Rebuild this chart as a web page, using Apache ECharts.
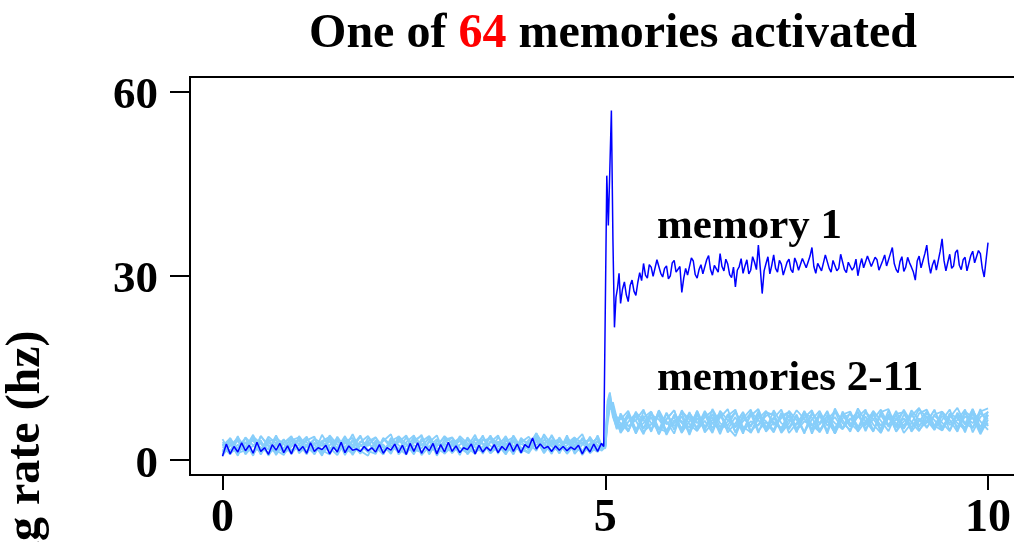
<!DOCTYPE html>
<html><head><meta charset="utf-8">
<script src="https://cdn.jsdelivr.net/npm/echarts@6/dist/echarts.min.js"></script>
<style>html,body{margin:0;padding:0;background:#fff}#c{width:1014px;height:542px}</style>
</head><body><div id="c"></div><script>
// ---- time grids (seconds) ----
const timeFine = [
0,0.05,0.1,0.15,0.2,0.25,0.3,0.35,0.4,0.45,
0.5,0.55,0.6,0.65,0.7,0.75,0.8,0.85,0.9,0.95,
1,1.05,1.1,1.15,1.2,1.25,1.3,1.35,1.4,1.45,
1.5,1.55,1.6,1.65,1.7,1.75,1.8,1.85,1.9,1.95,
2,2.05,2.1,2.15,2.2,2.25,2.3,2.35,2.4,2.45,
2.5,2.55,2.6,2.65,2.7,2.75,2.8,2.85,2.9,2.95,
3,3.05,3.1,3.15,3.2,3.25,3.3,3.35,3.4,3.45,
3.5,3.55,3.6,3.65,3.7,3.75,3.8,3.85,3.9,3.95,
4,4.05,4.1,4.15,4.2,4.25,4.3,4.35,4.4,4.45,
4.5,4.55,4.6,4.65,4.7,4.75,4.8,4.85,4.9,4.95,
4.98,5,5.02,5.04,5.06,5.08,5.1,5.12,5.14,5.16,5.18,
5.2,5.225,5.25,5.275,5.3,5.325,5.35,5.375,5.4,5.425,5.45,5.475,
5.5,5.525,5.55,5.575,5.6,5.625,5.65,5.675,5.7,5.725,5.75,5.775,5.8,5.825,5.85,5.875,5.9,5.925,5.95,5.975,
6,6.025,6.05,6.075,6.1,6.125,6.15,6.175,6.2,6.225,6.25,6.275,6.3,6.325,6.35,6.375,6.4,6.425,6.45,6.475,
6.5,6.525,6.55,6.575,6.6,6.625,6.65,6.675,6.7,6.725,6.75,6.775,6.8,6.825,6.85,6.875,6.9,6.925,6.95,6.975,
7,7.025,7.05,7.075,7.1,7.125,7.15,7.175,7.2,7.225,7.25,7.275,7.3,7.325,7.35,7.375,7.4,7.425,7.45,7.475,
7.5,7.525,7.55,7.575,7.6,7.625,7.65,7.675,7.7,7.725,7.75,7.775,7.8,7.825,7.85,7.875,7.9,7.925,7.95,7.975,
8,8.025,8.05,8.075,8.1,8.125,8.15,8.175,8.2,8.225,8.25,8.275,8.3,8.325,8.35,8.375,8.4,8.425,8.45,8.475,
8.5,8.525,8.55,8.575,8.6,8.625,8.65,8.675,8.7,8.725,8.75,8.775,8.8,8.825,8.85,8.875,8.9,8.925,8.95,8.975,
9,9.025,9.05,9.075,9.1,9.125,9.15,9.175,9.2,9.225,9.25,9.275,9.3,9.325,9.35,9.375,9.4,9.425,9.45,9.475,
9.5,9.525,9.55,9.575,9.6,9.625,9.65,9.675,9.7,9.725,9.75,9.775,9.8,9.825,9.85,9.875,9.9,9.925,9.95,9.975,
10];
const timeCoarse = [
0,0.1,0.2,0.3,0.4,0.5,0.6,0.7,0.8,0.9,
1,1.1,1.2,1.3,1.4,1.5,1.6,1.7,1.8,1.9,
2,2.1,2.2,2.3,2.4,2.5,2.6,2.7,2.8,2.9,
3,3.1,3.2,3.3,3.4,3.5,3.6,3.7,3.8,3.9,
4,4.1,4.2,4.3,4.4,4.5,4.6,4.7,4.8,4.9,
4.95,5,5.03,5.06,5.1,5.15,
5.2,5.3,5.4,5.5,5.6,5.7,5.8,5.9,6,6.1,
6.2,6.3,6.4,6.5,6.6,6.7,6.8,6.9,7,7.1,
7.2,7.3,7.4,7.5,7.6,7.7,7.8,7.9,8,8.1,
8.2,8.3,8.4,8.5,8.6,8.7,8.8,8.9,9,9.1,
9.2,9.3,9.4,9.5,9.6,9.7,9.8,9.9,10];

// ---- firing rates (hz) ----
const memory1 = [
0.6,2.6,1.0,2.2,1.3,2.8,1.5,2.4,1.1,2.9,
1.4,2.0,0.9,2.5,1.6,2.7,1.2,2.3,1.0,2.6,
1.5,2.2,1.1,2.8,1.4,2.0,1.7,2.4,1.0,2.1,
1.3,2.9,1.2,2.3,1.6,1.8,1.4,2.2,1.5,2.0,
1.3,2.5,1.1,2.0,1.6,2.6,1.2,2.4,0.9,2.7,
1.4,2.8,1.1,2.2,1.5,2.7,1.0,2.5,1.3,2.9,
1.4,2.3,1.2,2.0,1.7,2.6,1.0,2.4,1.3,2.1,
1.5,2.5,1.2,2.2,1.6,2.8,1.4,2.6,1.2,2.5,
2.0,3.6,1.8,2.6,1.9,2.2,1.4,2.3,1.6,2.2,
1.5,2.1,1.7,2.4,1.0,2.2,1.3,2.6,1.4,2.7,
2.2,2.5,46.3,38.2,47.5,56.9,36.0,21.6,26.5,28.0,30.4,
25.5,27.8,29.0,26.9,25.8,28.4,29.3,27.5,26.8,28.9,30.5,29.2,
32.0,30.1,29.6,31.8,31.4,29.9,30.2,32.6,32.3,30.4,29.8,31.2,31.6,29.5,30.0,32.1,32.5,30.6,30.3,31.5,
27.3,29.6,31.2,30.1,30.0,32.9,32.4,30.2,29.6,31.0,31.8,30.3,30.5,32.6,33.3,31.0,30.1,31.7,32.0,30.6,
33.6,31.5,30.8,32.7,31.9,30.2,29.7,31.4,28.2,30.9,31.5,32.8,30.4,31.6,32.6,30.3,30.9,33.1,32.2,31.0,
35.0,31.2,27.1,30.8,32.0,33.1,30.3,31.7,33.4,31.2,30.6,32.5,31.9,30.1,29.8,32.2,32.7,31.0,30.5,32.9,
32.1,30.9,30.7,32.8,33.0,31.3,31.1,33.2,34.6,31.5,30.4,32.0,32.3,30.8,31.0,33.4,33.1,31.2,30.6,32.5,
32.4,30.8,31.2,33.5,33.3,31.0,30.5,32.2,32.0,30.9,31.4,32.7,30.0,31.6,32.8,31.3,31.1,33.2,33.0,31.5,
31.3,33.0,32.6,30.9,30.8,32.5,33.4,31.6,31.5,33.6,34.6,32.0,31.0,30.5,32.3,33.1,30.7,31.4,33.0,32.1,
31.4,30.6,29.3,32.4,33.2,31.3,31.0,33.6,35.0,32.0,30.4,31.8,32.6,30.9,31.2,34.0,36.0,32.5,30.8,32.2,
33.5,31.2,31.6,33.8,34.2,31.7,31.0,32.6,33.0,30.8,30.9,33.3,34.0,32.1,31.8,34.1,33.6,31.2,29.8,32.6,
35.4];

const memory2 = [
0.8,3.6,1.5,2.9,0.7,3.9,2.2,1.1,3.4,1.0, 2.6,3.8,0.9,3.1,1.6,3.5,1.0,2.4,4.0,1.3,
2.8,0.9,3.3,1.5,3.7,1.2,2.5,3.4,0.7,2.9, 3.6,1.4,2.2,4.1,1.0,3.1,1.7,2.7,0.9,3.6,
2.3,4.4,1.5,3.0,1.1,3.4,2.0,1.3,3.8,1.7,
2.4,2.2,8.5,10.8,7.5,5.0,
7.2,4.6,7.9,5.1,7.0,4.2,7.6,4.9,8.1,5.8, 4.7,7.7,5.2,6.9,8.3,4.5,7.3,5.4,7.9,4.8,
6.8,8.2,5.0,7.1,4.3,7.8,5.9,8.0,4.9,7.4, 5.4,8.4,6.3,4.7,7.6,5.6,8.0,5.1,7.2,8.5,
5.2,7.4,7.9,4.8,7.7,5.9,8.3,5.3,7.9];
const memory3 = [
2.2,0.9,3.4,2.0,4.1,1.2,2.9,1.6,0.8,3.2, 3.7,1.4,2.6,0.7,3.5,1.9,3.9,1.1,2.3,3.1,
1.0,3.6,2.4,1.3,2.9,4.0,0.8,2.2,3.4,1.2, 2.7,3.6,0.9,2.5,3.8,1.4,3.0,1.1,4.0,2.0,
1.3,3.9,2.8,1.0,3.7,1.8,3.2,0.8,2.7,3.5,
1.8,2.6,7.0,9.3,8.6,6.4,
5.0,7.6,4.3,6.9,7.9,5.1,4.6,7.3,6.0,4.7, 8.0,5.4,7.0,4.2,7.5,5.3,6.8,8.2,4.8,6.2,
4.5,7.2,7.8,5.1,6.9,8.1,4.9,6.4,4.4,7.4, 7.9,5.2,7.1,4.6,7.8,8.3,5.3,6.8,4.9,7.6,
8.2,5.6,4.8,7.5,5.3,7.9,6.9,4.9,7.3];
const memory4 = [
1.3,2.9,0.7,3.7,2.4,1.2,3.5,0.8,2.8,3.9, 1.1,2.3,3.4,1.6,0.9,3.1,2.0,4.2,1.5,0.7,
3.2,2.1,1.2,3.9,2.6,0.9,3.5,1.4,2.4,3.7, 1.1,2.5,3.4,1.2,2.2,4.0,1.0,3.5,2.3,1.4,
3.3,2.4,3.8,1.3,2.5,1.1,3.6,2.8,1.1,2.3,
2.0,1.9,6.5,8.8,9.4,6.8,
4.4,6.2,7.6,4.6,5.8,7.3,4.1,6.5,5.2,7.8, 4.8,6.4,4.4,7.7,5.3,3.9,6.9,5.6,7.5,4.6,
6.1,5.0,7.2,4.5,8.0,5.7,4.6,7.3,6.0,5.0, 6.8,5.2,7.9,5.8,4.4,7.1,6.0,5.1,8.1,6.5,
5.3,7.2,6.1,4.7,7.5,5.8,6.9,4.2,6.6];
const memory5 = [
2.9,1.5,3.9,0.9,2.4,3.2,0.7,2.8,1.9,3.6, 2.6,0.9,3.5,2.7,1.3,3.8,2.0,1.0,3.0,2.3,
3.7,1.2,2.8,1.9,0.9,3.2,3.9,1.1,2.7,1.8, 3.2,0.8,3.7,2.1,1.2,2.9,4.0,1.3,2.1,3.1,
1.6,3.7,1.2,4.1,1.9,3.0,1.4,3.6,2.2,1.3,
2.6,2.3,7.8,10.1,7.0,5.2,
7.6,5.5,6.5,8.2,4.8,7.4,6.3,4.3,7.9,6.6, 5.3,8.0,6.0,4.9,7.2,8.2,4.6,6.3,5.6,7.8,
7.3,4.4,6.0,8.1,6.7,5.0,7.7,4.7,8.4,6.0, 4.9,7.2,5.6,8.0,6.4,4.7,7.5,7.8,5.3,6.7,
6.0,8.2,4.8,6.9,8.5,5.9,5.2,7.6,6.7];
const memory6 = [
0.7,2.5,3.1,1.1,3.6,1.6,3.8,2.7,1.0,2.2, 3.3,2.9,1.2,4.1,2.0,0.8,3.0,3.6,1.3,2.7,
1.7,3.1,4.2,0.9,2.3,3.5,1.2,2.9,4.0,1.0, 2.3,3.1,1.5,3.6,2.7,1.1,2.2,3.9,1.6,2.9,
3.8,1.9,3.3,2.2,1.4,4.0,1.0,2.5,3.5,2.4,
1.5,2.1,9.0,10.3,7.8,6.6,
6.0,4.7,7.2,5.2,7.8,4.9,6.7,8.1,4.5,6.3, 7.4,4.8,8.3,6.0,5.0,7.0,4.3,7.9,6.5,4.9,
8.1,6.0,5.3,7.4,4.5,6.6,8.0,5.6,7.0,5.1, 7.8,4.6,6.3,7.6,4.9,6.8,5.6,8.2,6.1,4.7,
7.1,5.5,7.9,6.5,4.6,7.7,5.2,8.3,5.5];
const memory7 = [
2.6,1.1,2.0,3.6,0.9,2.9,1.7,4.0,1.4,3.1, 1.7,3.5,2.0,1.2,4.0,2.5,1.5,3.3,1.0,3.6,
2.4,1.5,3.1,3.8,1.2,2.4,1.9,3.8,1.3,2.7, 1.5,3.9,2.7,1.0,3.4,2.3,1.4,2.5,3.3,1.1,
2.7,3.3,1.1,2.8,3.4,1.4,2.9,4.2,1.3,3.1,
2.1,2.4,7.2,9.4,9.0,6.0,
4.6,7.1,6.4,4.2,7.4,6.6,4.9,6.0,7.7,4.4, 6.8,5.0,7.5,4.7,6.3,7.9,5.4,4.5,7.2,6.3,
4.9,7.7,4.4,6.0,7.5,4.9,5.8,7.1,4.3,7.9, 6.0,4.8,7.8,6.7,5.0,8.1,4.6,6.3,7.4,5.7,
6.5,4.9,7.7,6.0,7.2,4.5,7.9,6.3,4.9];
const memory8 = [
1.5,3.3,1.0,2.8,3.1,2.0,1.2,3.6,2.6,1.0, 3.9,2.2,1.0,2.9,3.5,1.2,2.8,1.9,3.8,1.5,
1.0,3.5,2.0,2.9,4.0,1.7,1.3,3.1,2.2,3.9, 2.7,1.0,3.3,2.8,1.6,3.8,2.5,0.9,3.1,2.6,
2.0,4.3,2.4,1.6,3.0,2.7,3.7,1.0,2.4,3.7,
2.3,2.0,6.0,8.4,8.2,7.0,
6.6,8.0,4.9,7.2,4.6,8.1,5.8,7.0,4.4,7.6, 6.0,7.4,4.7,8.0,6.5,5.5,7.8,4.4,6.7,8.0,
5.7,6.8,7.8,4.8,6.3,5.6,7.4,4.3,7.9,6.5, 4.6,7.9,5.1,6.6,8.2,5.7,7.3,4.4,6.0,8.3,
6.9,5.2,6.5,8.2,4.9,7.1,6.0,7.9,8.4];
const memory9 = [
3.4,1.2,2.5,1.4,3.8,2.7,0.9,2.3,3.3,1.6, 2.0,3.2,3.8,1.0,2.4,3.5,0.8,3.1,2.5,1.3,
2.9,2.5,1.0,3.5,1.6,2.8,4.1,0.9,3.1,2.3, 1.2,3.5,2.3,1.5,4.0,1.1,2.8,3.5,1.0,3.3,
2.8,1.5,4.2,2.4,3.1,1.0,2.5,3.3,1.5,4.0,
2.5,2.7,9.6,11.0,7.2,5.6,
5.4,7.1,4.4,7.9,6.0,4.9,7.7,5.5,7.1,4.1, 7.4,5.4,6.5,7.6,4.5,6.0,7.8,4.8,5.8,7.2,
7.7,4.6,6.6,5.7,7.9,4.3,7.2,6.3,5.2,7.5, 5.5,7.0,8.2,4.8,7.3,5.4,6.6,7.9,4.6,6.3,
7.9,4.9,7.2,5.7,6.5,8.2,4.5,7.0,7.8];
const memory10 = [
1.0,2.3,3.6,2.2,1.2,3.9,2.4,1.4,2.8,3.5, 1.4,2.5,1.2,3.1,3.8,1.6,3.3,0.8,2.9,3.9,
2.1,0.9,3.6,2.4,1.4,3.8,2.5,2.2,1.3,3.3, 3.7,2.0,1.1,3.3,2.6,1.5,3.7,2.0,3.0,1.1,
3.1,3.5,1.5,3.3,1.1,3.7,2.2,2.8,3.2,1.4,
1.9,2.2,7.5,9.8,8.8,6.5,
7.2,4.8,7.7,6.5,4.9,8.0,4.5,7.4,6.3,5.3, 8.0,4.5,6.0,7.2,5.6,7.8,4.9,7.2,8.3,5.3,
6.9,5.0,8.0,6.5,4.6,7.5,6.0,7.8,4.3,6.8, 7.5,5.5,6.0,7.9,4.4,7.5,6.6,5.6,7.7,4.9,
6.3,8.1,5.3,7.3,6.0,4.9,7.6,4.6,7.4];
const memory11 = [
2.3,3.5,1.1,1.6,3.4,0.9,3.1,3.3,1.2,2.6, 3.2,1.1,2.8,2.3,3.0,1.3,3.7,2.4,1.1,3.0,
3.7,2.0,1.4,3.2,2.6,1.2,3.0,3.9,1.9,1.1, 2.6,3.4,2.0,1.0,3.2,3.5,1.3,3.0,3.7,1.8,
1.1,3.0,2.6,3.8,1.6,2.4,3.4,1.5,2.0,3.1,
2.2,2.5,8.2,9.2,7.6,6.2,
5.6,7.5,5.0,6.0,7.7,4.2,6.6,8.1,4.8,7.2, 4.9,7.0,8.0,5.3,7.3,4.5,6.3,7.6,4.4,7.8,
6.2,5.2,7.3,4.7,7.6,6.9,4.5,6.6,7.9,5.2, 6.6,7.8,4.7,7.4,5.6,7.3,4.7,7.4,6.2,5.4,
7.6,6.5,4.9,7.6,6.8,5.2,8.3,4.8,6.0];

const otherMemories = [memory2,memory3,memory4,memory5,memory6,memory7,memory8,memory9,memory10,memory11];

const xTicks = [0, 5, 10];
const yTicks = [0, 30, 60];
const titleParts = ['One of ', '64', ' memories activated'];
const yName = 'firing rate (hz)';
const annotations = [
  { text: 'memory 1', x: 5.676, y: 38.0 },
  { text: 'memories 2-11', x: 5.676, y: 13.2 }
];

// sanity check
if (memory1.length !== timeFine.length) console.error('memory1 length', memory1.length, timeFine.length);
otherMemories.forEach((m, i) => { if (m.length !== timeCoarse.length) console.error('memory' + (i + 2) + ' length', m.length, timeCoarse.length); });

const FONT = '"Liberation Serif","Times New Roman",serif';
const chart = echarts.init(document.getElementById('c'), null, { renderer: 'canvas' });

const series = [];
otherMemories.forEach((m, i) => {
  series.push({
    type: 'line', name: 'memory ' + (i + 2), showSymbol: false, silent: true,
    data: timeCoarse.map((t, j) => [t, m[j]]),
    lineStyle: { color: '#87CEFA', width: 1.8 }, z: 2
  });
});
series.push({
  type: 'line', name: 'memory 1', showSymbol: false, silent: true,
  data: timeFine.map((t, j) => [t, memory1[j]]),
  lineStyle: { color: '#0000FF', width: 1.5 }, z: 3
});

const option = {
  animation: false,
  backgroundColor: '#fff',
  title: {
    text: titleParts[0] + '{r|' + titleParts[1] + '}' + titleParts[2],
    left: 608, top: 6, textAlign: 'center',
    textStyle: {
      fontFamily: FONT, fontSize: 48, fontWeight: 'bold', color: '#000',
      rich: { r: { fontFamily: FONT, fontSize: 48, fontWeight: 'bold', color: '#FF0000' } }
    }
  },
  grid: { left: 190, top: 77, right: -10, bottom: 67, show: true, borderColor: '#000', borderWidth: 2,
          containLabel: false, outerBoundsMode: 'none' },
  xAxis: {
    type: 'value', min: -0.4246, max: 10.47,
    axisLine: { show: false, onZero: false },
    splitLine: { show: false },
    axisTick: { show: true, customValues: xTicks, length: 15, inside: false, lineStyle: { color: '#000', width: 2 } },
    axisLabel: { show: true, customValues: xTicks, margin: 21, fontFamily: FONT, fontSize: 46, fontWeight: 'bold', color: '#000' }
  },
  yAxis: {
    type: 'value', min: -2.44, max: 62.36,
    axisLine: { show: false, onZero: false },
    splitLine: { show: false },
    axisTick: { show: true, customValues: yTicks, length: 20, inside: false, lineStyle: { color: '#000', width: 2 } },
    axisLabel: {
      show: true, customValues: yTicks, margin: 32,
      formatter: '{a|{value}}',
      rich: { a: { fontFamily: FONT, fontSize: 45, fontWeight: 'bold', color: '#000', padding: [10, 0, 0, 0] } }
    }
  },
  series: series
};
chart.setOption(option);

const graphics = [{
  type: 'text', x: 27, y: 481, rotation: Math.PI / 2,
  style: { text: yName, font: 'bold 48px ' + FONT, fill: '#000', align: 'center', verticalAlign: 'middle' }
}];
annotations.forEach(a => {
  const p = chart.convertToPixel({ gridIndex: 0 }, [a.x, a.y]);
  graphics.push({
    type: 'text', x: p[0], y: p[1],
    style: { text: a.text, font: 'bold 43px ' + FONT, fill: '#000', align: 'left', verticalAlign: 'middle' }
  });
});
chart.setOption({ graphic: graphics });
</script></body></html>
